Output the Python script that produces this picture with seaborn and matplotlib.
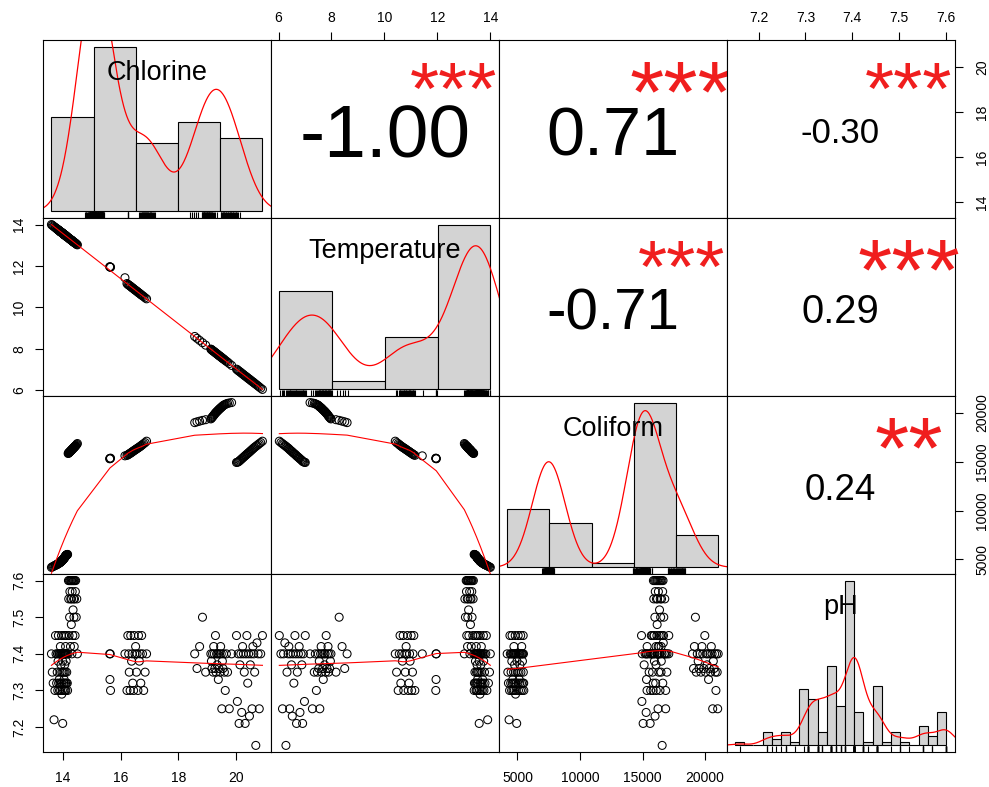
import numpy as np
import pandas as pd
import matplotlib
matplotlib.use("Agg")
import matplotlib.pyplot as plt
import seaborn as sns

# readings taken off the chart, grouped by the clusters visible in the panels
chlorine_a = [13.60, 13.63, 13.66, 13.69, 13.72, 13.74, 13.76, 13.78, 13.80, 13.81,
              13.82, 13.83, 13.84, 13.85, 13.86, 13.87, 13.88, 13.89, 13.90, 13.90,
              13.91, 13.92, 13.92, 13.93, 13.94, 13.94, 13.95, 13.96, 13.96, 13.97,
              13.97, 13.98, 13.98, 13.99, 13.99, 14.00,
              14.01, 14.02, 14.02, 14.03, 14.03, 14.04, 14.04, 14.05, 14.05, 14.06,
              14.06, 14.07, 14.07, 14.08, 14.08, 14.09, 14.09, 14.10, 14.10, 14.11,
              14.11, 14.12, 14.12, 14.13, 14.14, 14.15, 14.16]
temperature_a = [14.00, 13.97, 13.93, 13.90, 13.87, 13.85, 13.83, 13.80, 13.78, 13.77,
                 13.76, 13.75, 13.74, 13.73, 13.72, 13.71, 13.70, 13.68, 13.67, 13.67,
                 13.66, 13.65, 13.65, 13.64, 13.63, 13.63, 13.62, 13.61, 13.61, 13.60,
                 13.60, 13.59, 13.59, 13.58, 13.58, 13.56,
                 13.55, 13.54, 13.54, 13.53, 13.53, 13.52, 13.52, 13.51, 13.51, 13.50,
                 13.50, 13.49, 13.49, 13.48, 13.48, 13.47, 13.47, 13.46, 13.46, 13.44,
                 13.44, 13.43, 13.43, 13.42, 13.41, 13.40, 13.39]
coliform_a = [4180, 4230, 4280, 4330, 4370, 4400, 4430, 4460, 4490, 4510,
              4530, 4550, 4570, 4590, 4610, 4630, 4650, 4670, 4690, 4700,
              4720, 4740, 4750, 4770, 4790, 4800, 4820, 4840, 4850, 4870,
              4880, 4900, 4920, 4940, 4960, 4990,
              5020, 5040, 5060, 5080, 5100, 5120, 5140, 5160, 5180, 5200,
              5220, 5240, 5260, 5280, 5300, 5320, 5340, 5360, 5380, 5400,
              5420, 5440, 5460, 5470, 5480, 5500, 5510]
ph_a = [7.40, 7.35, 7.32, 7.22, 7.30, 7.45, 7.40, 7.32, 7.35, 7.40,
        7.30, 7.38, 7.45, 7.32, 7.40, 7.33, 7.30, 7.40, 7.35, 7.32,
        7.42, 7.40, 7.30, 7.37, 7.32, 7.40, 7.45, 7.35, 7.29, 7.40,
        7.32, 7.30, 7.40, 7.21, 7.38, 7.35,
        7.40, 7.32, 7.45, 7.30, 7.40, 7.35, 7.33, 7.40, 7.32, 7.37,
        7.40, 7.30, 7.45, 7.35, 7.40, 7.32, 7.42, 7.40, 7.30, 7.38,
        7.40, 7.32, 7.45, 7.35, 7.40, 7.32, 7.30]

chlorine_b = [14.18, 14.19, 14.20, 14.21, 14.22, 14.23, 14.24, 14.25, 14.26, 14.27,
              14.28, 14.29, 14.30, 14.30, 14.31, 14.32, 14.33, 14.34, 14.35, 14.36,
              14.37, 14.38, 14.38, 14.39, 14.40, 14.41, 14.42, 14.43, 14.44, 14.46,
              14.48, 14.50]
temperature_b = [13.37, 13.36, 13.35, 13.34, 13.32, 13.31, 13.30, 13.29, 13.28, 13.27,
                 13.26, 13.25, 13.24, 13.24, 13.23, 13.22, 13.20, 13.19, 13.18, 13.17,
                 13.16, 13.15, 13.15, 13.14, 13.13, 13.12, 13.11, 13.10, 13.09, 13.06,
                 13.04, 13.02]
coliform_b = [15840, 15870, 15900, 15930, 15960, 15990, 16020, 16050, 16080, 16110,
              16140, 16170, 16200, 16210, 16240, 16270, 16300, 16330, 16360, 16390,
              16420, 16450, 16460, 16490, 16520, 16550, 16580, 16610, 16640, 16700,
              16780, 16860]
ph_b = [7.40, 7.60, 7.55, 7.45, 7.60, 7.50, 7.57, 7.60, 7.42, 7.55,
        7.60, 7.48, 7.55, 7.60, 7.40, 7.57, 7.60, 7.45, 7.52, 7.60,
        7.55, 7.50, 7.60, 7.42, 7.55, 7.60, 7.45, 7.57, 7.60, 7.50,
        7.55, 7.40]

chlorine_p = [15.62, 15.63, 15.64, 15.65]
temperature_p = [11.96, 11.95, 11.95, 11.94]
coliform_p = [15300, 15320, 15340, 15360]
ph_p = [7.40, 7.33, 7.40, 7.30]

chlorine_c = [16.15, 16.22, 16.25, 16.28, 16.30, 16.33, 16.35, 16.38, 16.40, 16.42,
              16.45, 16.47, 16.50, 16.52, 16.55, 16.57, 16.60, 16.62, 16.65, 16.68,
              16.70, 16.73, 16.76, 16.80, 16.85, 16.90]
temperature_c = [11.43, 11.15, 11.11, 11.08, 11.06, 11.03, 11.01, 10.97, 10.95, 10.93,
                 10.90, 10.87, 10.84, 10.82, 10.79, 10.77, 10.73, 10.71, 10.68, 10.65,
                 10.62, 10.59, 10.56, 10.52, 10.46, 10.41]
coliform_c = [15600, 15650, 15700, 15760, 15800, 15850, 15900, 15950, 16000, 16050,
              16100, 16150, 16200, 16250, 16300, 16350, 16400, 16450, 16500, 16560,
              16620, 16680, 16750, 16850, 16950, 17100]
ph_c = [7.40, 7.30, 7.45, 7.40, 7.35, 7.30, 7.45, 7.38, 7.40, 7.32,
        7.30, 7.45, 7.40, 7.42, 7.35, 7.40, 7.30, 7.45, 7.38, 7.40,
        7.32, 7.45, 7.40, 7.30, 7.35, 7.40]

chlorine_d = [18.57, 18.65, 18.74, 18.84, 18.95, 19.13, 19.15, 19.17, 19.19, 19.21,
              19.23, 19.25, 19.27, 19.29, 19.31, 19.33, 19.35, 19.37, 19.39, 19.41,
              19.43, 19.45, 19.47, 19.49, 19.51, 19.53, 19.55, 19.57, 19.60, 19.63,
              19.67, 19.71, 19.77, 19.85]
temperature_d = [8.59, 8.50, 8.40, 8.29, 8.17, 7.98, 7.96, 7.93, 7.91, 7.89,
                 7.87, 7.85, 7.83, 7.80, 7.78, 7.76, 7.74, 7.72, 7.69, 7.67,
                 7.65, 7.63, 7.61, 7.59, 7.56, 7.54, 7.52, 7.50, 7.47, 7.43,
                 7.39, 7.35, 7.28, 7.19]
coliform_d = [19000, 19080, 19150, 19230, 19300, 19380, 19450, 19520, 19600, 19670,
              19750, 19820, 19900, 19980, 20040, 20100, 20160, 20220, 20280, 20340,
              20400, 20450, 20500, 20560, 20610, 20660, 20720, 20770, 20820, 20870,
              20920, 20970, 21010, 21050]
ph_d = [7.40, 7.36, 7.42, 7.50, 7.35, 7.40, 7.38, 7.36, 7.40, 7.35,
        7.42, 7.40, 7.36, 7.45, 7.35, 7.40, 7.37, 7.40, 7.33, 7.36,
        7.40, 7.35, 7.42, 7.40, 7.25, 7.38, 7.36, 7.40, 7.35, 7.30,
        7.40, 7.35, 7.25, 7.40]

chlorine_e = [20.02, 20.05, 20.08, 20.11, 20.14, 20.17, 20.20, 20.23, 20.26, 20.29,
              20.32, 20.35, 20.38, 20.41, 20.44, 20.47, 20.50, 20.53, 20.56, 20.59,
              20.62, 20.65, 20.69, 20.73, 20.77, 20.81, 20.86, 20.92]
temperature_e = [7.01, 6.98, 6.94, 6.91, 6.88, 6.85, 6.81, 6.78, 6.75, 6.71,
                 6.68, 6.65, 6.62, 6.58, 6.55, 6.52, 6.49, 6.45, 6.42, 6.39,
                 6.36, 6.32, 6.28, 6.24, 6.19, 6.15, 6.09, 6.03]
coliform_e = [14920, 14950, 14980, 15050, 15130, 15210, 15290, 15370, 15450, 15530,
              15610, 15690, 15770, 15850, 15920, 16000, 16080, 16160, 16240, 16320,
              16400, 16480, 16570, 16660, 16750, 16850, 16960, 17100]
ph_e = [7.45, 7.27, 7.40, 7.21, 7.37, 7.40, 7.24, 7.42, 7.40, 7.35,
        7.21, 7.40, 7.45, 7.32, 7.40, 7.23, 7.37, 7.40, 7.25, 7.42,
        7.40, 7.35, 7.15, 7.43, 7.40, 7.25, 7.40, 7.45]

variables = ["Chlorine", "Temperature", "Coliform", "pH"]

# correlations and stars printed in the upper panels (row by row)
corr_values = [-1.00, 0.71, -0.30, -0.71, 0.29, 0.24]
corr_stars = ["***", "***", "***", "***", "***", "**"]

hist_breaks = [
    [12, 14, 16, 18, 20, 22],
    [6, 8, 10, 12, 14],
    [0, 5000, 10000, 15000, 20000, 25000],
    [7.14, 7.16, 7.18, 7.20, 7.22, 7.24, 7.26, 7.28, 7.30, 7.32, 7.34, 7.36,
     7.38, 7.40, 7.42, 7.44, 7.46, 7.48, 7.50, 7.52, 7.54, 7.56, 7.58, 7.60],
]
tick_values = [
    [14, 16, 18, 20],
    [6, 8, 10, 12, 14],
    [5000, 10000, 15000, 20000],
    [7.2, 7.3, 7.4, 7.5, 7.6],
]
tick_labels = [
    ["14", "16", "18", "20"],
    ["6", "8", "10", "12", "14"],
    ["5000", "10000", "15000", "20000"],
    ["7.2", "7.3", "7.4", "7.5", "7.6"],
]

df = pd.DataFrame({
    "Chlorine": chlorine_a + chlorine_b + chlorine_p + chlorine_c + chlorine_d + chlorine_e,
    "Temperature": temperature_a + temperature_b + temperature_p + temperature_c + temperature_d + temperature_e,
    "Coliform": coliform_a + coliform_b + coliform_p + coliform_c + coliform_d + coliform_e,
    "pH": ph_a + ph_b + ph_p + ph_c + ph_d + ph_e,
})


def lowess(x, y, f=2 / 3, iters=3):
    # plain robust locally weighted regression, like R's lowess()
    order = np.argsort(x, kind="mergesort")
    x = np.asarray(x, float)[order]
    y = np.asarray(y, float)[order]
    n = len(x)
    ns = max(min(int(f * n + 1e-7), n), 2)
    h = np.array([np.sort(np.abs(x - xi))[ns - 1] for xi in x])
    robust = np.ones(n)
    fit = y.copy()
    for it in range(iters + 1):
        for i in range(n):
            d = np.abs(x - x[i]) / max(h[i], 1e-12)
            w = np.clip(1 - d ** 3, 0, 1) ** 3 * robust
            sw = w.sum()
            xm = (w * x).sum() / sw
            ym = (w * y).sum() / sw
            c = (w * (x - xm) ** 2).sum()
            slope = (w * (x - xm) * (y - ym)).sum() / c if c > 1e-12 else 0.0
            fit[i] = ym + slope * (x[i] - xm)
        res = y - fit
        cmad = 6 * np.median(np.abs(res))
        if cmad < 1e-7 * np.mean(np.abs(y)):
            break
        u = np.abs(res) / cmad
        robust = np.clip(1 - u ** 2, 0, 1) ** 2
    return x, fit


def str_em(s):
    widths = {"-": 0.333, ".": 0.278, "*": 0.389}
    return sum(widths.get(ch, 0.556) for ch in s)


plt.rcParams["font.family"] = ["Liberation Sans", "DejaVu Sans"]
L, R, T, B = 43 / 989, 954.5 / 989, 1 - 40 / 787, 1 - 752 / 787
fig, axes = plt.subplots(4, 4, figsize=(9.89, 7.87), dpi=100)
fig.subplots_adjust(left=L, right=R, top=T, bottom=B, wspace=0, hspace=0)
panel_w = 989 * (R - L) / 4
panel_h = 787 * (T - B) / 4

lims = {}
for v in variables:
    lo, hi = df[v].min(), df[v].max()
    lims[v] = (lo - 0.04 * (hi - lo), hi + 0.04 * (hi - lo))

k = 0
for i, vy in enumerate(variables):
    for j, vx in enumerate(variables):
        ax = axes[i, j]
        if i == j:
            edges = np.array(hist_breaks[i], float)
            vals = df[vx].values
            sns.histplot(x=vals, bins=edges + 1e-6, stat="density", color="#D3D3D3",
                         edgecolor="black", linewidth=0.8, alpha=1, ax=ax)
            dens, _ = np.histogram(vals, bins=edges + 1e-6, density=True)
            sd = vals.std(ddof=1)
            q75, q25 = np.percentile(vals, [75, 25])
            bw = 0.9 * min(sd, (q75 - q25) / 1.34) * len(vals) ** -0.2
            sns.kdeplot(x=vals, bw_method=bw / sd, cut=3, gridsize=512,
                        color="red", linewidth=0.9, ax=ax)
            sns.rugplot(x=vals, height=0.036, color="black", linewidth=0.8,
                        expand_margins=False, ax=ax)
            span = edges[-1] - edges[0]
            ax.set_xlim(edges[0] - 0.04 * span, edges[-1] + 0.04 * span)
            ax.set_ylim(-0.04 * dens.max(), 1.04 * dens.max())
            ax.text(0.5, 0.775, vx, transform=ax.transAxes, ha="center",
                    va="baseline", fontsize=19.5)
        elif i > j:
            sns.scatterplot(x=df[vx].values, y=df[vy].values, marker="o", s=33,
                            fc="none", ec="black", linewidth=0.75, ax=ax)
            xs, ys = lowess(df[vx].values, df[vy].values)
            ax.plot(xs, ys, color="red", lw=0.8)
            ax.set_xlim(lims[vx])
            ax.set_ylim(lims[vy])
        else:
            ax.set_xlim(lims[vx])
            ax.set_ylim(lims[vy])
            r = corr_values[k]
            stars = corr_stars[k]
            k += 1
            txt = f"{r:.2f}"
            cex_px = 0.8 * panel_w * 0.94 / str_em(txt)
            main_px = cex_px * (abs(r) + 0.3) / 1.3
            ax.text(0.5, 0.49 - 0.358 * main_px / panel_h, txt, transform=ax.transAxes,
                    ha="center", va="baseline", fontsize=main_px * 0.72)
            ax.text(0.8, 0.825 - 0.567 * cex_px / panel_h, stars, transform=ax.transAxes,
                    ha="center", va="baseline", fontsize=cex_px * 0.72, color="#F01E1E")

        ax.set_xlabel("")
        ax.set_ylabel("")
        for s in ax.spines.values():
            s.set_linewidth(0.8)
            s.set_color("black")
        ax.tick_params(left=False, right=False, top=False, bottom=False,
                       labelleft=False, labelright=False, labeltop=False, labelbottom=False,
                       direction="out", length=6, width=0.8, labelsize=10, pad=5)
        ax.set_xticks([])
        ax.set_yticks([])

        if i == 0 and j in (1, 3):
            ax.set_xticks(tick_values[j], tick_labels[j])
            ax.tick_params(axis="x", top=True, labeltop=True, pad=5)
        if i == 3 and j in (0, 2):
            ax.set_xticks(tick_values[j], tick_labels[j])
            ax.tick_params(axis="x", bottom=True, labelbottom=True, pad=8)
        if j == 0 and i in (1, 3):
            ax.set_yticks(tick_values[i], tick_labels[i], rotation=90, va="center")
            ax.tick_params(axis="y", left=True, labelleft=True, pad=6)
        if j == 3 and i in (0, 2):
            ax.set_yticks(tick_values[i], tick_labels[i], rotation=90, va="center")
            ax.tick_params(axis="y", right=True, labelright=True, pad=9)

fig.savefig("out.png", dpi=100)
